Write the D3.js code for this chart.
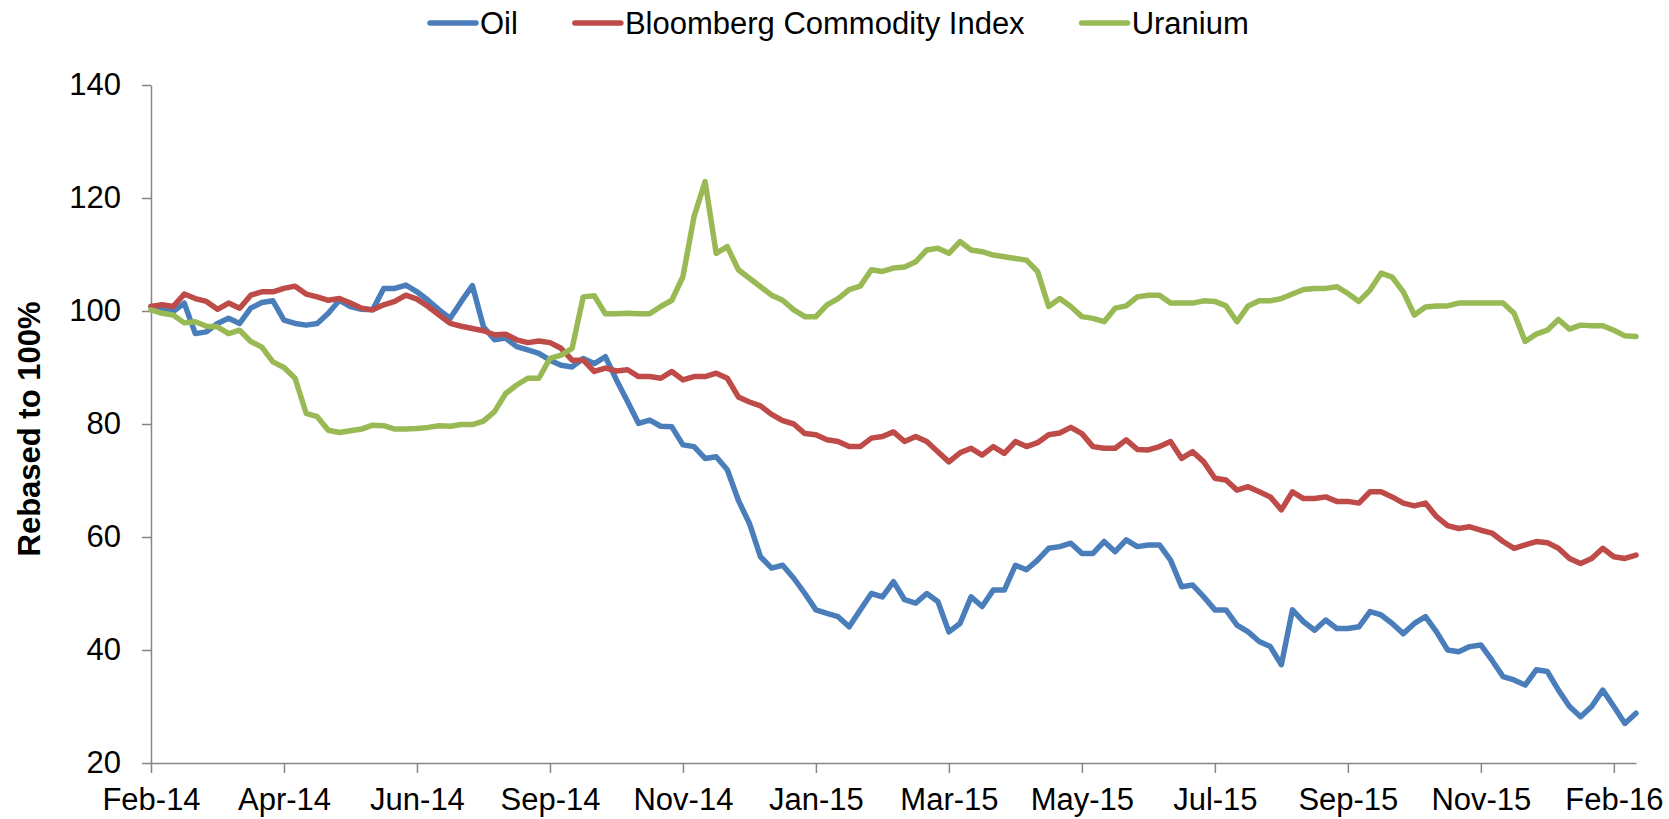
<!DOCTYPE html>
<html>
<head>
<meta charset="utf-8">
<script src="https://cdn.jsdelivr.net/npm/d3@7"></script>
<style>
  body { margin: 0; background: #fff; }
  svg { display: block; font-family: "Liberation Sans", Arial, sans-serif; }
</style>
</head>
<body>
<svg id="chart" width="1669" height="819"></svg>
<script>
// category labels, one every 12 points
var tickLabels = ["Feb-14", "Apr-14", "Jun-14", "Sep-14", "Nov-14", "Jan-15",
                  "Mar-15", "May-15", "Jul-15", "Sep-15", "Nov-15", "Feb-16"]
var tickEvery = 12
var yTicks = [20, 40, 60, 80, 100, 120, 140]

var seriesNames = ["Oil", "Bloomberg Commodity Index", "Uranium"]

var oil = [
  100.8, 100.5, 99.9, 101.4, 96.0, 96.3, 97.8, 98.7, 97.8, 100.5, 101.5, 101.8,
  98.4, 97.8, 97.5, 97.8, 99.6, 101.9, 100.8, 100.3, 100.2, 104.0, 104.0, 104.6,
  103.4, 101.9, 100.2, 98.7, 101.7, 104.5, 97.2, 94.9, 95.2, 93.7, 93.1, 92.5,
  91.3, 90.4, 90.1, 91.6, 90.7, 91.9, 87.8, 84.0, 80.1, 80.7, 79.6, 79.5,
  76.3, 76.0, 73.9, 74.2, 71.9, 66.5, 62.4, 56.5, 54.5, 55.0, 52.7, 50.0,
  47.1, 46.5, 45.9, 44.1, 47.1, 50.0, 49.4, 52.1, 48.9, 48.3, 50.0, 48.6,
  43.2, 44.7, 49.4, 47.7, 50.6, 50.6, 55.0, 54.2, 55.9, 58.0, 58.3, 58.9,
  57.1, 57.1, 59.2, 57.4, 59.5, 58.3, 58.6, 58.6, 55.9, 51.2, 51.5, 49.4,
  47.1, 47.1, 44.4, 43.2, 41.5, 40.6, 37.4, 47.1, 45.0, 43.5, 45.3, 43.8,
  43.8, 44.1, 46.8, 46.2, 44.7, 42.9, 44.7, 45.9, 43.2, 40.0, 39.7, 40.6,
  40.9, 38.2, 35.3, 34.7, 33.8, 36.5, 36.2, 32.9, 30.0, 28.2, 30.0, 32.9,
  30.0, 27.0, 28.8
]

var bcom = [
  100.8, 101.1, 100.8, 103.0, 102.2, 101.7, 100.3, 101.4, 100.5, 102.8, 103.4, 103.4,
  104.0, 104.4, 103.0, 102.5, 101.9, 102.2, 101.4, 100.5, 100.2, 101.1, 101.7, 102.8,
  102.1, 100.8, 99.3, 97.8, 97.3, 96.9, 96.5, 95.8, 95.9, 94.9, 94.4, 94.7,
  94.4, 93.4, 91.3, 91.3, 89.3, 89.9, 89.4, 89.6, 88.4, 88.4, 88.1, 89.3,
  87.8, 88.4, 88.4, 89.0, 88.1, 84.8, 83.9, 83.2, 81.7, 80.6, 80.0, 78.3,
  78.1, 77.2, 76.9, 76.0, 76.0, 77.5, 77.8, 78.6, 76.9, 77.8, 76.9, 75.1,
  73.3, 74.9, 75.7, 74.5, 76.0, 74.8, 76.9, 76.0, 76.7, 78.1, 78.4, 79.4,
  78.3, 76.0, 75.7, 75.7, 77.2, 75.5, 75.4, 76.0, 76.9, 73.9, 75.1, 73.3,
  70.4, 70.1, 68.3, 68.9, 68.0, 67.1, 64.8, 68.0, 66.8, 66.8, 67.1, 66.3,
  66.3, 66.0, 68.0, 68.0, 67.1, 66.0, 65.5, 66.0, 63.6, 62.0, 61.5, 61.8,
  61.2, 60.7, 59.2, 58.0, 58.6, 59.2, 59.0, 58.0, 56.2, 55.3, 56.2, 58.0,
  56.5, 56.2, 56.8
]

var uranium = [
  100.2, 99.6, 99.3, 97.9, 98.1, 97.3, 97.2, 96.0, 96.6, 94.6, 93.6, 91.0,
  90.0, 88.1, 81.9, 81.3, 78.9, 78.5, 78.8, 79.1, 79.8, 79.7, 79.1, 79.1,
  79.2, 79.4, 79.7, 79.6, 79.9, 79.9, 80.5, 82.2, 85.4, 86.9, 88.1, 88.1,
  91.6, 92.2, 93.4, 102.5, 102.7, 99.5, 99.5, 99.6, 99.5, 99.5, 100.8, 101.9,
  106.1, 116.7, 122.9, 110.2, 111.4, 107.3, 105.8, 104.3, 102.8, 101.9, 100.2, 99.0,
  99.0, 101.1, 102.2, 103.8, 104.4, 107.3, 107.0, 107.6, 107.8, 108.7, 110.8, 111.1,
  110.2, 112.3, 110.8, 110.5, 109.9, 109.6, 109.3, 109.0, 107.0, 100.8, 102.2, 100.8,
  99.0, 98.7, 98.1, 100.5, 100.9, 102.5, 102.8, 102.8, 101.4, 101.4, 101.4, 101.8,
  101.7, 100.9, 98.1, 100.9, 101.8, 101.8, 102.2, 103.0, 103.8, 104.0, 104.0, 104.3,
  103.1, 101.7, 103.7, 106.7, 106.0, 103.4, 99.3, 100.7, 100.9, 100.9, 101.4, 101.4,
  101.4, 101.4, 101.4, 99.6, 94.6, 95.9, 96.6, 98.5, 96.8, 97.5, 97.4, 97.4,
  96.6, 95.6, 95.5
]

var colors = ["#4A7EBB", "#BE4B48", "#98B954"]
var allSeries = [oil, bcom, uranium]

var svg = d3.select("#chart")
var axisColor = "#868686"
var fontSize = 31
var lineWidth = 5.5

var plotLeft = 151, plotRight = 1636, plotTop = 85, plotBottom = 763

var x = d3.scaleLinear()
          .domain([0, oil.length - 1])
          .range([plotLeft, plotRight])

var y = d3.scaleLinear()
          .domain([20, 140])
          .range([plotBottom, plotTop])

// y axis
var yAxis = svg.append("g")
    .attr("transform", "translate(" + plotLeft + ",0)")
    .call(d3.axisLeft(y).tickValues(yTicks).tickSize(9).tickSizeOuter(0).tickPadding(21))

// x axis
var xAxis = svg.append("g")
    .attr("transform", "translate(0," + plotBottom + ")")
    .call(d3.axisBottom(x)
            .tickValues(tickLabels.map(function (d, i) { return i * tickEvery }))
            .tickFormat(function (d) { return tickLabels[d / tickEvery] })
            .tickSize(10).tickSizeOuter(0).tickPadding(15))

;[xAxis, yAxis].forEach(function (a) {
  a.select(".domain").attr("stroke", axisColor).attr("stroke-width", 1.5)
  a.selectAll(".tick line").attr("stroke", axisColor).attr("stroke-width", 1.5)
  a.selectAll(".tick text")
   .attr("fill", "#000")
   .style("font-size", fontSize + "px")
   .style("font-family", "'Liberation Sans', Arial, sans-serif")
})

// the lines
var line = d3.line()
             .x(function (d, i) { return x(i) })
             .y(function (d) { return y(d) })

svg.append("g").selectAll("path")
   .data(allSeries)
   .enter().append("path")
   .attr("d", line)
   .attr("fill", "none")
   .attr("stroke", function (d, i) { return colors[i] })
   .attr("stroke-width", lineWidth)
   .attr("stroke-linejoin", "round")
   .attr("stroke-linecap", "round")

// y axis title
svg.append("text")
   .attr("transform", "translate(40,429) rotate(-90)")
   .attr("text-anchor", "middle")
   .style("font-size", fontSize + "px")
   .style("font-weight", "bold")
   .text("Rebased to 100%")

// legend
var legend = svg.append("g")
var lx = 430, ly = 23
seriesNames.forEach(function (name, i) {
  legend.append("line")
        .attr("x1", lx).attr("x2", lx + 46)
        .attr("y1", ly).attr("y2", ly)
        .attr("stroke", colors[i])
        .attr("stroke-width", lineWidth)
        .attr("stroke-linecap", "round")
  var t = legend.append("text")
        .attr("x", lx + 50)
        .attr("y", ly + 11)
        .style("font-size", fontSize + "px")
        .text(name)
  lx = lx + 50 + t.node().getComputedTextLength() + 57
})
</script>
</body>
</html>
